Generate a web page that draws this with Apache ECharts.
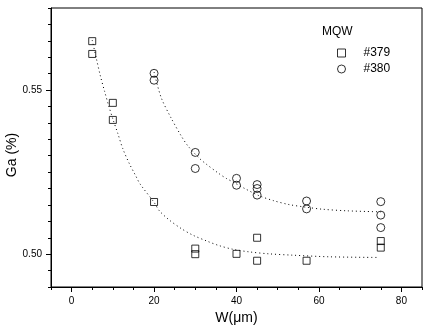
<!DOCTYPE html>
<html>
<head>
<meta charset="utf-8">
<script src="https://cdn.jsdelivr.net/npm/echarts@6/dist/echarts.min.js"></script>
<style>
html,body{margin:0;padding:0;background:#fff;}
#c{width:430px;height:334px;}
</style>
</head>
<body>
<div id="c"></div>
<script>
// ---- data ----
var s379X = [5, 5, 10, 10, 20, 30, 30, 40, 45, 45, 57, 75, 75];
var s379Y = [0.5649, 0.5610, 0.5461, 0.5409, 0.5159, 0.5017, 0.5000, 0.5001, 0.5050, 0.4980, 0.4980, 0.5040, 0.5020];
var s380X = [20, 20, 30, 30, 40, 40, 45, 45, 45, 57, 57, 75, 75, 75];
var s380Y = [0.5551, 0.5530, 0.5310, 0.5261, 0.5231, 0.5210, 0.5212, 0.5200, 0.5180, 0.5162, 0.5138, 0.5160, 0.5119, 0.5081];
// dotted fit curves
var fit379X = [5, 6, 7, 8, 9, 10, 11.2, 12.4, 14, 15.5, 16.6, 20, 21.3, 23.7, 26.6, 29.4, 33, 35.8, 39.1, 43.1, 47.9, 53.6, 62.5, 74.6];
var fit379Y = [0.5652, 0.5596, 0.5542, 0.5496, 0.5452, 0.5412, 0.5368, 0.5322, 0.5276, 0.5240, 0.5214, 0.5158, 0.5132, 0.5104, 0.5078, 0.5058, 0.5039, 0.5026, 0.5015, 0.5007, 0.5001, 0.4997, 0.4992, 0.4990];
var fit380X = [20, 21.7, 24, 26.6, 28.2, 31, 32.6, 35.8, 37.5, 39, 42, 45.5, 49, 52.8, 57, 60.8, 67, 75];
var fit380Y = [0.5555, 0.5478, 0.5418, 0.5360, 0.5330, 0.5292, 0.5275, 0.5245, 0.5231, 0.5221, 0.5200, 0.5178, 0.5163, 0.5151, 0.5143, 0.5137, 0.5132, 0.5129];
var xMajorTicks = [0, 20, 40, 60, 80];
var yMajorTicks = [0.50, 0.55];
var seriesNames = ['#379', '#380'];
var legendTitle = 'MQW';
var xTitle = 'W(\u03bcm)';
var yTitle = 'Ga (%)';

function pairs(xs, ys) { return xs.map(function (x, i) { return [x, ys[i]]; }); }
var FONT = '"Liberation Sans", Arial, sans-serif';

var chart = echarts.init(document.getElementById('c'), null, {renderer: 'canvas'});
function isMajor(v, list) { return list.some(function (m) { return Math.abs(v - m) < 1e-6; }); }

chart.setOption({
  animation: false,
  backgroundColor: '#fff',
  grid: {left: 51, right: 8, top: 8, bottom: 47, show: true, borderColor: '#000', borderWidth: 1, backgroundColor: 'transparent'},
  title: {text: legendTitle, left: 322, top: 26, padding: 0,
    textStyle: {fontFamily: FONT, fontSize: 12, fontWeight: 'normal', color: '#000'}},
  legend: {
    orient: 'vertical', left: 337, top: 47, itemWidth: 8, itemHeight: 8, itemGap: 4, padding: 0,
    textStyle: {fontFamily: FONT, fontSize: 12, color: '#000', padding: [0, 0, 0, 13], lineHeight: 12},
    data: [
      {name: seriesNames[0], icon: 'rect', itemStyle: {color: 'transparent', borderColor: '#000', borderWidth: 1}},
      {name: seriesNames[1], icon: 'circle', itemStyle: {color: 'transparent', borderColor: '#000', borderWidth: 1}}
    ]
  },
  xAxis: [{
    type: 'value', min: -5, max: 85, interval: 5,
    axisLine: {show: true, onZero: false, lineStyle: {color: '#000', width: 1}}, splitLine: {show: false},
    axisTick: {show: true, length: 3, lineStyle: {color: '#000'}},
    axisLabel: {color: '#000', fontFamily: FONT, fontSize: 10, margin: 9,
      formatter: function (v) { return isMajor(v, xMajorTicks) ? String(Math.round(v)) : ''; }},
    name: xTitle, nameLocation: 'middle', nameGap: 21,
    nameTextStyle: {fontFamily: FONT, fontSize: 14, color: '#000'}
  }, {
    type: 'value', min: -5, max: 85, position: 'bottom', offset: 0,
    axisLine: {show: false, onZero: false}, splitLine: {show: false},
    axisTick: {show: true, length: 5, customValues: xMajorTicks, lineStyle: {color: '#000'}},
    axisLabel: {show: false}
  }],
  yAxis: [{
    type: 'value', min: 0.49, max: 0.575, interval: 0.005,
    axisLine: {show: true, onZero: false, lineStyle: {color: '#000', width: 1}}, splitLine: {show: false},
    axisTick: {show: true, length: 3, lineStyle: {color: '#000'}},
    axisLabel: {color: '#000', fontFamily: FONT, fontSize: 10, margin: 9,
      formatter: function (v) { return isMajor(v, yMajorTicks) ? v.toFixed(2) : ''; }}
  }, {
    type: 'value', min: 0.49, max: 0.575, position: 'left', offset: 0,
    axisLine: {show: false, onZero: false}, splitLine: {show: false},
    axisTick: {show: true, length: 5, customValues: yMajorTicks, lineStyle: {color: '#000'}},
    axisLabel: {show: false}
  }],
  graphic: [{
    type: 'text', x: 12, y: 155, rotation: Math.PI / 2,
    style: {text: yTitle, font: '14px ' + FONT, fill: '#000', align: 'center', verticalAlign: 'middle'}
  }],
  series: [
    {type: 'line', name: 'fit379', data: pairs(fit379X, fit379Y), smooth: 0.3, showSymbol: false, silent: true,
      lineStyle: {color: '#000', width: 1, type: [1, 3]}},
    {type: 'line', name: 'fit380', data: pairs(fit380X, fit380Y), smooth: 0.3, showSymbol: false, silent: true,
      lineStyle: {color: '#000', width: 1, type: [1, 3]}},
    {type: 'scatter', name: seriesNames[0], data: pairs(s379X, s379Y), symbol: 'rect', symbolSize: 7,
      itemStyle: {color: 'transparent', borderColor: '#000', borderWidth: 1}},
    {type: 'scatter', name: seriesNames[1], data: pairs(s380X, s380Y), symbol: 'circle', symbolSize: 8,
      itemStyle: {color: 'transparent', borderColor: '#000', borderWidth: 1}}
  ]
});
</script>
</body>
</html>
